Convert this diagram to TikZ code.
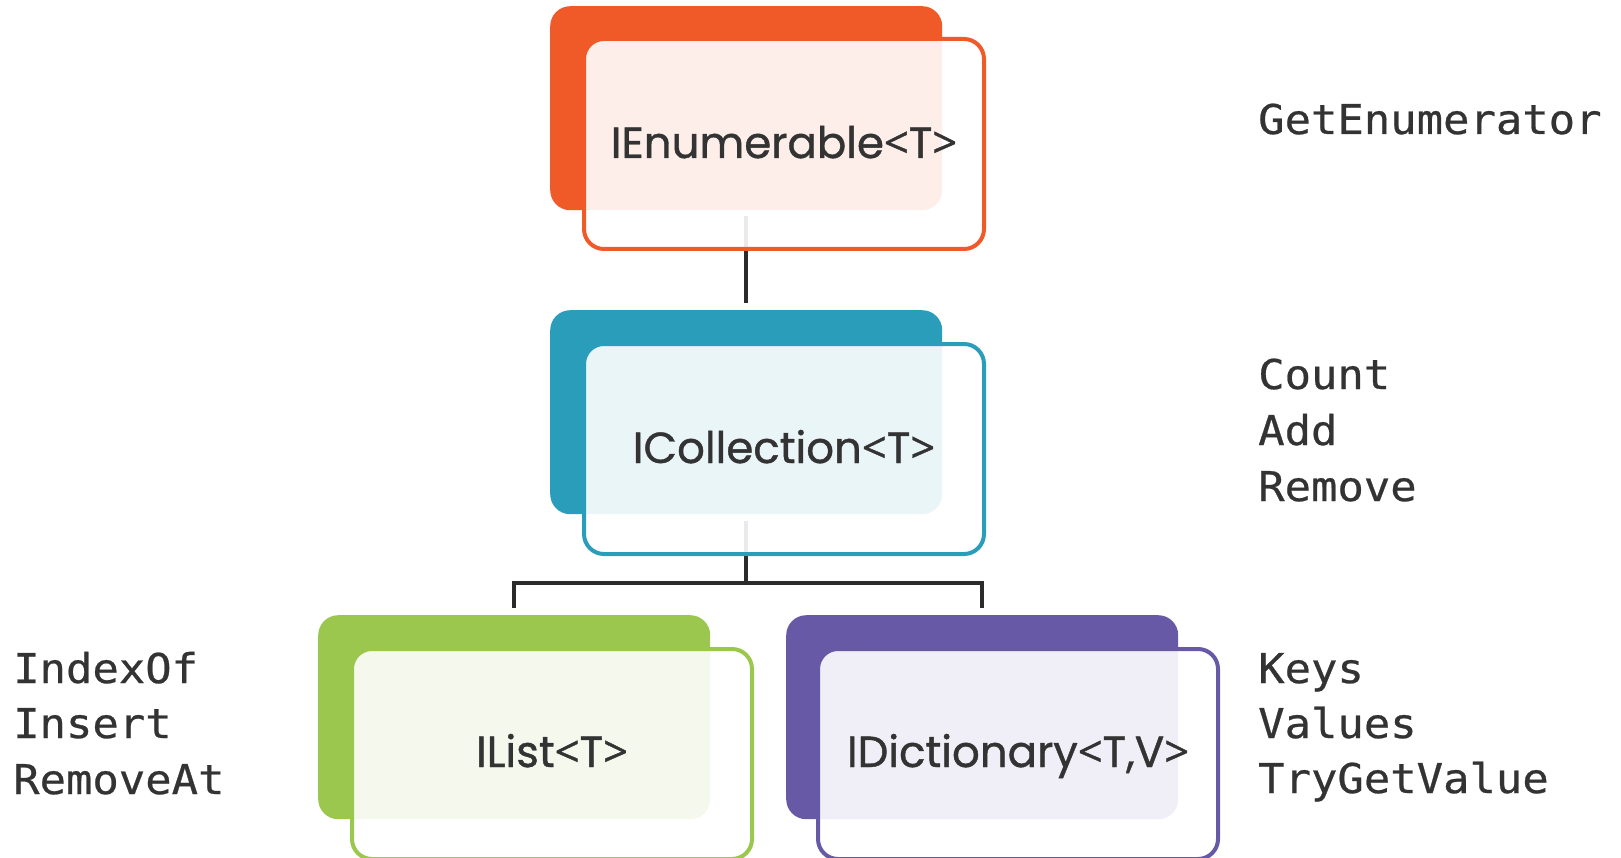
\documentclass[tikz,border=0pt]{standalone}
\usepackage{fontspec}
\newfontfamily\labelfont[FakeBold=0.9]{Poppins}
\newfontfamily\chevfont[FakeBold=0.9]{Open Sans}
\newfontfamily\codefont[FakeStretch=1.07,FakeBold=0.6]{DejaVu Sans Mono}
\newcommand\ltchev{{\chevfont<}}
\newcommand\gtchev{{\chevfont>}}
\usetikzlibrary{calc}
\definecolor{enumC}{HTML}{F05A28}
\definecolor{collC}{HTML}{2A9DBA}
\definecolor{listC}{HTML}{9CC74F}
\definecolor{dictC}{HTML}{6759A6}
\definecolor{inkC}{HTML}{333333}
\definecolor{lineC}{HTML}{2B2B2B}
\begin{document}
\begin{tikzpicture}[x=1pt,y=-1pt,
  backbox/.style={rectangle, rounded corners=20pt, inner sep=0pt, anchor=north west,
    minimum width=392pt, minimum height=204pt},
  frontbox/.style={rectangle, rounded corners=20pt, inner sep=0pt, anchor=north west,
    minimum width=400pt, minimum height=210pt, line width=4pt,
    fill=white, fill opacity=0.9, draw opacity=1},
  boxlabel/.style={anchor=base, inner sep=0pt, text=inkC,
    font=\labelfont\fontsize{43.5}{50}\selectfont},
  codetext/.style={anchor=base west, inner sep=0pt, text=inkC,
    font=\codefont\fontsize{41}{50}\selectfont},
  conn/.style={draw=lineC, line width=4pt}]
\useasboundingbox (0,0) rectangle (1621,858);

% coloured back plates
\node[backbox, fill=enumC] (enumB) at (550,6) {};
\node[backbox, fill=collC] (collB) at (550,310) {};
\node[backbox, fill=listC] (listB) at (318,615) {};
\node[backbox, fill=dictC] (dictB) at (786,615) {};

% hierarchy lines
\coordinate (fork) at ($(collB.south)+(0,69)$);
\draw[conn, shorten <=6pt, shorten >=7pt] (enumB.south) -- (collB.north);
\draw[conn, shorten <=7pt] (collB.south) -- (fork);
\draw[conn, shorten >=7pt] (fork) -| (listB.north);
\draw[conn, shorten >=7pt] (fork) -| (dictB.north);

% translucent front cards
\node[frontbox, draw=enumC] (enumF) at (582,37) {};
\node[frontbox, draw=collC] (collF) at (582,342) {};
\node[frontbox, draw=listC] (listF) at (350,647) {};
\node[frontbox, draw=dictC] (dictF) at (816,647) {};

% interface names
\node[boxlabel] (enumL) at ($(enumF.center)+(0,14)$) {IEnumerable\ltchev T\gtchev};
\node[boxlabel] (collL) at ($(collF.center)+(0,14)$) {ICollection\ltchev T\gtchev};
\node[boxlabel] (listL) at ($(listF.center)+(0,13)$) {IList\ltchev T\gtchev};
\node[boxlabel] (dictL) at ($(dictF.center)+(0,13)$) {IDictionary\ltchev T,V\gtchev};

% member lists
\node[codetext] (m1) at (1258,134) {GetEnumerator};
\node[codetext] (m2) at (1258,389) {Count};
\node[codetext] (m3) at (1258,445) {Add};
\node[codetext] (m4) at (1258,501) {Remove};
\node[codetext] (m5) at (13,683) {IndexOf};
\node[codetext] (m6) at (13,738) {Insert};
\node[codetext] (m7) at (13,794) {RemoveAt};
\node[codetext] (m8) at (1258,683) {Keys};
\node[codetext] (m9) at (1258,738) {Values};
\node[codetext] (m10) at (1258,793) {TryGetValue};
\end{tikzpicture}
\end{document}
